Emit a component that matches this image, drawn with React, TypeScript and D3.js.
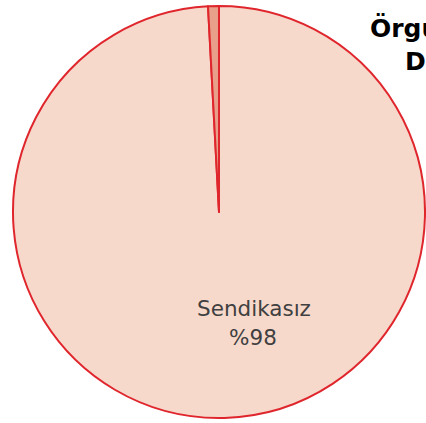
import React from "react";
import * as d3 from "d3";

const categories = ["Sendikasız", "Sendikalı"];
const values = [99.15, 0.85];
const sliceLabels = ["%98", ""];
const titleLines = ["Sendikalı İşçi", "Örgütlü", "Dış"];
const fills = ["#F7D9CC", "#E9A08A"];

const W = 426;
const H = 423;
const cx = 219;
const cy = 212;
const R = 206;

export default function App() {
  const pie = d3.pie<number>().sort(null).value((d) => d)(values);
  const arc = d3.arc<d3.PieArcDatum<number>>().innerRadius(0).outerRadius(R);
  return (
    <svg
      width={W}
      height={H}
      style={{ position: "absolute", left: 0, top: 0, display: "block" }}
    >
      <rect width={W} height={H} fill="#fff" />
      <g transform={`translate(${cx},${cy})`}>
        {pie.map((p, i) => (
          <path
            key={categories[i]}
            d={arc(p) || ""}
            fill={fills[i]}
            stroke="#E0262D"
            strokeWidth={2}
            strokeLinejoin="round"
          />
        ))}
      </g>
      <text
        x={254}
        y={316}
        textAnchor="middle"
        fontFamily="'DejaVu Sans', sans-serif"
        fontSize={21.5}
        fill="#404040"
      >
        <tspan x={254}>{categories[0]}</tspan>
        <tspan x={253} dy={29}>{sliceLabels[0]}</tspan>
      </text>
      <text
        fontFamily="'DejaVu Sans', sans-serif"
        fontWeight="bold"
        fontSize={25}
        fill="#000"
      >
        <tspan x={300} y={0}>{titleLines[0]}</tspan>
        <tspan x={370} y={37}>{titleLines[1]}</tspan>
        <tspan x={405} y={70}>{titleLines[2]}</tspan>
      </text>
    </svg>
  );
}
